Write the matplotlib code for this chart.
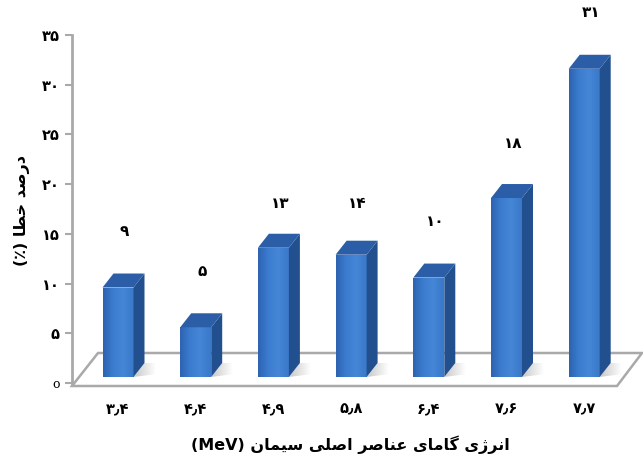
import matplotlib
matplotlib.use("Agg")
import matplotlib.pyplot as plt
import numpy as np
from matplotlib import font_manager
from matplotlib.font_manager import FontProperties
from matplotlib.ft2font import FT2Font
from matplotlib.patches import Polygon
from matplotlib.colors import LinearSegmentedColormap

# ---------------- data ----------------
categories = ["۳٫۴", "۴٫۴", "۴٫۹", "۵٫۸", "۶٫۴", "۷٫۶", "۷٫۷"]
bar_heights = [9, 5, 13, 12.3, 10, 18, 31]
value_labels = ["۹", "۵", "۱۳", "۱۴", "۱۰", "۱۸", "۳۱"]
y_ticks = [0, 5, 10, 15, 20, 25, 30, 35]
y_tick_labels = ["o", "۵", "۱۰", "۱۵", "۲۰", "۲۵", "۳۰", "۳۵"]
x_title = "انرژی گامای عناصر اصلی سیمان (MeV)"
y_title = "درصد خطا (٪)"

# ---------------- simple Persian shaping ----------------
FORMS = {
    '\u0627': ('\uFE8D', '\uFE8E', None, None),
    '\u062F': ('\uFEA9', '\uFEAA', None, None),
    '\u0631': ('\uFEAD', '\uFEAE', None, None),
    '\u0698': ('\uFB8A', '\uFB8B', None, None),
    '\u0646': ('\uFEE5', '\uFEE6', '\uFEE7', '\uFEE8'),
    '\u06CC': ('\uFBFC', '\uFBFD', '\uFBFE', '\uFBFF'),
    '\u06AF': ('\uFB92', '\uFB93', '\uFB94', '\uFB95'),
    '\u0645': ('\uFEE1', '\uFEE2', '\uFEE3', '\uFEE4'),
    '\u0639': ('\uFEC9', '\uFECA', '\uFECB', '\uFECC'),
    '\u0635': ('\uFEB9', '\uFEBA', '\uFEBB', '\uFEBC'),
    '\u0644': ('\uFEDD', '\uFEDE', '\uFEDF', '\uFEE0'),
    '\u0633': ('\uFEB1', '\uFEB2', '\uFEB3', '\uFEB4'),
    '\u062E': ('\uFEA5', '\uFEA6', '\uFEA7', '\uFEA8'),
    '\u0637': ('\uFEC1', '\uFEC2', '\uFEC3', '\uFEC4'),
}


def shape(text):
    out = []
    n = len(text)
    for i, c in enumerate(text):
        if c not in FORMS:
            out.append(c)
            continue
        prev = text[i - 1] if i > 0 else ''
        nxt = text[i + 1] if i < n - 1 else ''
        jp = prev in FORMS and FORMS[prev][2] is not None
        jn = FORMS[c][2] is not None and nxt in FORMS
        iso, fin, ini, med = FORMS[c]
        if jp and jn:
            out.append(med)
        elif jp:
            out.append(fin)
        elif jn:
            out.append(ini)
        else:
            out.append(iso)
    return ''.join(out)


def is_ltr(c):
    return (c.isascii() and c.isalnum()) or ('\u06F0' <= c <= '\u06F9') or c in '٫.'


def visual(text):
    s = shape(text)
    tokens = []
    buf = ''
    for c in s:
        if is_ltr(c):
            buf += c
        else:
            if buf:
                tokens.append(buf)
                buf = ''
            tokens.append(c)
    if buf:
        tokens.append(buf)
    tokens.reverse()
    mirror = {'(': ')', ')': '('}
    return ''.join(mirror.get(t, t) for t in tokens)


# ---------------- font selection ----------------
needed = set(shape(x_title + y_title) + ''.join(categories) + ''.join(value_labels))
needed.discard(' ')


def pick_font():
    best = None
    for fe in font_manager.fontManager.ttflist:
        try:
            cmap = FT2Font(fe.fname).get_charmap()
        except Exception:
            continue
        if all(ord(c) in cmap for c in needed):
            w = fe.weight if isinstance(fe.weight, int) else (700 if 'bold' in str(fe.weight).lower() else 400)
            if best is None or w > best[0]:
                best = (w, fe.fname)
    return best[1] if best else None


fname = pick_font()


def fp(size):
    if fname:
        return FontProperties(fname=fname, size=size)
    return FontProperties(family='DejaVu Sans', weight='bold', size=size)


# ---------------- figure ----------------
W, H = 643, 463
fig = plt.figure(figsize=(W / 100, H / 100), dpi=100)
ax_left_px, ax_right_px = 72, 643
ax_top_px, ax_bot_px = 35, 383
ax = fig.add_axes([ax_left_px / W, 1 - ax_bot_px / H,
                   (ax_right_px - ax_left_px) / W, (ax_bot_px - ax_top_px) / H])

x = np.arange(len(categories))
px_per_x = 77.7
x0 = -(118 - ax_left_px) / px_per_x
x1 = x0 + (ax_right_px - ax_left_px) / px_per_x
ax.set_xlim(x0, x1)
ax.set_ylim(0, 35)
px_per_y = (ax_bot_px - ax_top_px) / 35.0


def dxp(p):
    return p / px_per_x


def dyp(p):
    return p / px_per_y


# floor
fl_front_y = dyp(ax_bot_px - 386)
fl_back_y = dyp(ax_bot_px - 353)
floor = Polygon([(x0, fl_front_y), (x0 + dxp(545), fl_front_y),
                 (x0 + dxp(570), fl_back_y), (x0 + dxp(26), fl_back_y)],
                closed=True, facecolor='white', edgecolor='#a9a9a9', lw=1.8,
                zorder=1, clip_on=False)
ax.add_patch(floor)

# bars
base = dyp(ax_bot_px - 377)
bw = dxp(31)
ddx, ddy = dxp(11), dyp(14)
front_cmap = LinearSegmentedColormap.from_list(
    'f', ['#2d63b0', '#3c7dd0', '#4586d6', '#3a78c8'])
shadow_cmap = LinearSegmentedColormap.from_list('s', ['#c8c8c8', '#ffffff'])
bars = ax.bar(x, bar_heights, width=bw, bottom=base, color='#3a7bd0',
              zorder=3, linewidth=0)
grad = np.linspace(0, 1, 64).reshape(1, -1)
for rect in bars:
    xl = rect.get_x()
    xr = xl + rect.get_width()
    yb = rect.get_y()
    yt = yb + rect.get_height()
    # soft shadow on floor
    sh = Polygon([(xr, yb), (xr + ddx * 2.0, yb + ddy * 0.2),
                  (xr + ddx * 2.0, yb + ddy * 1.0), (xr + ddx, yb + ddy)],
                 closed=True, facecolor='none', edgecolor='none', zorder=2)
    ax.add_patch(sh)
    sim = ax.imshow(grad, cmap=shadow_cmap, extent=(xr, xr + ddx * 2.0, yb, yb + ddy),
                    aspect='auto', zorder=2, interpolation='bilinear')
    sim.set_clip_path(sh)
    im = ax.imshow(grad, cmap=front_cmap, extent=(xl, xr, yb, yt),
                   aspect='auto', zorder=3.1, interpolation='bilinear')
    im.set_clip_path(rect)
    side = Polygon([(xr, yb), (xr + ddx, yb + ddy), (xr + ddx, yt + ddy), (xr, yt)],
                   closed=True, facecolor='#22508f', edgecolor='none', zorder=3.2)
    top = Polygon([(xl, yt), (xl + ddx, yt + ddy), (xr + ddx, yt + ddy), (xr, yt)],
                  closed=True, facecolor='#2b5ea6', edgecolor='none', zorder=3.2)
    ax.add_patch(side)
    ax.add_patch(top)

ax.set_xlim(x0, x1)
ax.set_ylim(0, 35)

# value labels
label_offsets = [4.2, 4.2, 3.0, 3.7, 4.2, 4.1, 4.3]
for xi, h, lab, off in zip(x, bar_heights, value_labels, label_offsets):
    ax.text(xi + ddx * 0.6, base + h + ddy + off, visual(lab), ha='center', va='center',
            fontproperties=fp(11), color='black', zorder=5, clip_on=False)

# axes styling
for s in ['top', 'right', 'bottom']:
    ax.spines[s].set_visible(False)
ax.spines['left'].set_color('#a9a9a9')
ax.spines['left'].set_linewidth(2)
ax.set_yticks(y_ticks)
ax.set_yticklabels([visual(t) for t in y_tick_labels])
ax.tick_params(axis='y', direction='out', length=5, width=1.5, color='#a9a9a9', pad=4)
ax.set_xticks(x)
ax.set_xticklabels([visual(c) for c in categories])
ax.tick_params(axis='x', length=0, pad=13)
for t in ax.get_yticklabels() + ax.get_xticklabels():
    t.set_fontproperties(fp(10.5))
ax.get_yticklabels()[0].set_fontproperties(FontProperties(family='DejaVu Serif', size=9))

fig.text(350 / W, 1 - 445 / H, visual(x_title), ha='center', va='center',
         fontproperties=fp(11.5))
fig.text(22 / W, 1 - 210 / H, visual(y_title), ha='center', va='center',
         rotation=90, fontproperties=fp(11.5))

fig.savefig('out.png', dpi=100)
